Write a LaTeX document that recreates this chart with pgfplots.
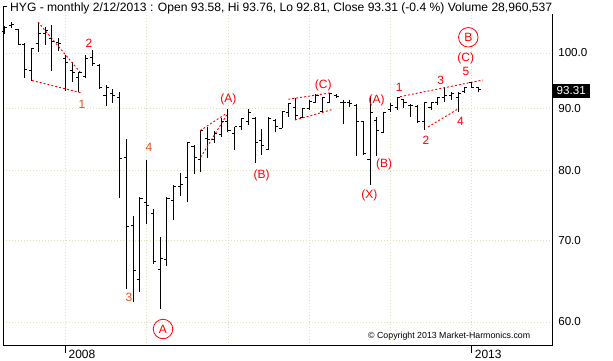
\documentclass[border=0pt]{standalone}
\usepackage{fontspec}
\setmainfont{Liberation Sans}
\usepackage{pgfplots}
\usepackage{pgfplotstable}
\pgfplotsset{compat=1.18}
\pgfdeclareplotmark{ohlcopen}{\pgfpathmoveto{\pgfqpoint{-2.6pt}{0pt}}\pgfpathlineto{\pgfqpoint{0pt}{0pt}}\pgfusepathqstroke}
\pgfdeclareplotmark{ohlcclose}{\pgfpathmoveto{\pgfqpoint{0pt}{0pt}}\pgfpathlineto{\pgfqpoint{2.6pt}{0pt}}\pgfusepathqstroke}
\definecolor{gridc}{RGB}{225,225,185}
\definecolor{wave}{RGB}{255,0,0}
\definecolor{wavo}{RGB}{230,80,20}

% monthly OHLC, index 0 = Apr 2007 ... 70 = Feb 2013
\pgfplotstableread{
i O H L C
0 104.07 105.26 103.67 104.86
1 105.26 106.06 104.86 105.46
2 104.66 104.66 101.53 101.53
3 101.53 101.92 95.36 96.82
4 96.64 100.95 94.82 100.76
5 101.72 105.86 100.19 103.67
6 103.67 105.06 101.53 104.46
7 102.69 105.46 96.64 102.11
8 101.92 102.89 100.38 101.72
9 99.05 99.62 93.04 98.30
10 96.64 98.30 94.64 96.45
11 95.54 96.45 92.86 96.45
12 95.72 99.62 95.36 99.05
13 99.24 100.57 97.56 97.93
14 97.56 97.93 93.39 93.57
15 92.33 94.10 90.42 93.74
16 92.68 93.39 90.94 92.16
17 91.98 92.86 75.92 81.92
18 82.07 84.93 63.87 71.98
19 72.12 73.36 62.31 66.22
20 65.10 76.06 63.51 75.92
21 75.34 81.61 72.26 74.91
22 73.78 74.35 66.98 67.24
23 66.35 70.50 61.48 67.75
24 67.62 76.06 66.73 75.92
25 75.63 77.82 72.81 77.67
26 77.67 79.61 76.21 77.96
27 79.01 84.29 75.34 84.29
28 83.65 83.97 79.46 82.07
29 81.76 86.39 79.77 86.23
30 85.09 86.89 81.92 84.77
31 84.77 86.23 84.29 85.90
32 85.58 88.38 85.25 87.72
33 87.72 89.91 86.06 86.23
34 85.74 86.89 83.17 86.89
35 86.89 88.38 86.39 88.38
36 87.72 89.91 87.22 89.23
37 88.38 88.55 81.14 84.44
38 84.61 86.56 82.39 83.81
39 83.33 88.55 83.17 88.38
40 88.05 88.22 86.06 86.89
41 86.72 89.40 86.72 89.40
42 89.23 90.94 88.55 90.77
43 90.25 91.81 88.05 88.89
44 88.55 90.08 88.38 89.91
45 89.91 91.46 89.74 91.28
46 90.94 92.51 90.94 92.33
47 89.40 91.98 89.23 91.98
48 91.11 92.68 90.94 92.68
49 92.25 92.51 91.81 92.07
50 91.11 91.46 87.38 90.94
51 91.11 91.46 90.25 90.77
52 90.59 90.77 82.23 87.88
53 87.72 87.88 82.39 82.70
54 81.76 92.16 77.82 89.23
55 88.05 88.55 82.23 86.39
56 86.06 89.40 85.90 89.23
57 89.74 90.94 89.40 90.59
58 90.08 91.98 89.74 91.81
59 91.46 91.63 90.08 90.94
60 90.59 90.77 88.55 90.50
61 90.42 90.59 87.55 87.88
62 87.88 91.11 86.39 90.94
63 90.25 91.11 89.74 90.94
64 91.11 91.98 90.59 91.81
65 91.81 93.74 91.11 92.16
66 92.16 92.86 91.46 92.51
67 91.98 92.86 89.40 92.68
68 92.86 93.74 92.68 93.57
69 94.46 94.64 93.57 93.74
70 93.58 93.76 92.81 93.31
}\ohlc

\tikzset{lab/.style={text=wave, font=\fontsize{12}{12}\selectfont, inner sep=0pt},
         labo/.style={text=wavo, font=\fontsize{12}{12}\selectfont, inner sep=0pt},
         circ/.style={draw=wave, text=wave, circle, minimum size=19.5pt, inner sep=0pt, line width=0.8pt, font=\fontsize{12}{12}\selectfont}}

\begin{document}
\begin{tikzpicture}[x=1pt,y=1pt]
\path[use as bounding box] (0,0) rectangle (613,360);
\begin{axis}[
  at={(3pt,14pt)}, anchor=south west,
  width=549pt, height=339pt, scale only axis,
  xmin=-0.2216, xmax=80.87,
  ymode=log, ymin=57.33, ymax=109.13,
  axis x line=bottom, axis y line=right,
  axis line style={-, line width=1pt, black},
  every outer x axis line/.append style={-},
  every outer y axis line/.append style={-},
  y axis line style={draw=none},
  xtick={9,21,33,45,57,69},
  xticklabels={2008,,,,,2013},
  ytick={60,70,80,90,100},
  yticklabels={60.0,70.0,80.0,90.0,100.0},
  tick style={draw=none},
  minor tick style={draw=none},
  xmajorgrids, ymajorgrids,
  major grid style={gridc, line width=0.8pt, dash pattern=on 0.8pt off 2.2pt},
  xticklabel style={anchor=north west, inner sep=0pt, xshift=3pt, yshift=-2pt, font=\fontsize{12}{12}\selectfont},
  yticklabel style={anchor=west, inner sep=0pt, xshift=4pt, font=\fontsize{11.6}{12}\selectfont},
]
% high-low ranges
\addplot[draw=none, no markers, forget plot,
  error bars/.cd, y dir=plus, y explicit, error mark=none,
  error bar style={draw=black, solid, line width=1pt}]
  table[x=i, y=L, y error plus expr=\thisrow{H}-\thisrow{L}] {\ohlc};
% open ticks
\addplot[only marks, mark=ohlcopen, mark options={line width=1pt, black}] table[x=i, y=O] {\ohlc};
% close ticks
\addplot[only marks, mark=ohlcclose, mark options={line width=1pt, black}] table[x=i, y=C] {\ohlc};

% wave trend lines
\addplot[wave, line width=0.9pt, dash pattern=on 2pt off 2pt] coordinates {(4.95,106.06) (11.15,96.45)};
\addplot[wave, line width=0.9pt, dash pattern=on 2pt off 2pt] coordinates {(4.06,94.91) (11.45,92.68)};
\addplot[wave, line width=0.9pt, dash pattern=on 2pt off 2pt] coordinates {(28.88,86.29) (32.82,89.18)};
\addplot[wave, line width=0.9pt, dash pattern=on 2pt off 2pt] coordinates {(28.98,82.04) (32.82,88.89)};
\addplot[wave, line width=0.9pt, dash pattern=on 2pt off 2pt] coordinates {(41.92,91.58) (48.33,92.74)};
\addplot[wave, line width=0.9pt, dash pattern=on 2pt off 2pt] coordinates {(42.91,88.05) (48.57,89.86)};
\addplot[wave, line width=0.9pt, dash pattern=on 2pt off 2pt] coordinates {(58.42,92.04) (70.68,95.00)};
\addplot[wave, line width=0.9pt, dash pattern=on 2pt off 2pt] coordinates {(62.56,86.89) (66.99,89.91)};
\end{axis}

% frame pieces
\draw[line width=1pt] (3,14) -- (3,353.3) -- (7,353.3);
\draw[line width=1pt] (552,14) -- (552,346);
\draw[line width=1pt] (65.4,14) -- (65.4,7);
\draw[line width=1pt] (471.2,14) -- (471.2,7);

% title
\node[anchor=base west, inner sep=0pt, font=\fontsize{12.1}{12}\selectfont] at (10,349)
  {HYG - monthly 2/12/2013 : Open 93.58, Hi 93.76, Lo 92.81, Close 93.31 (-0.4 \%) Volume 28,960,537};

% last price box
\node[fill=black, text=white, anchor=west, inner sep=0pt, minimum height=14pt, minimum width=37pt,
  font=\fontsize{11.6}{12}\selectfont] at (552.5,269.3) {93.31};

% copyright
\node[anchor=base west, inner sep=0pt, font=\fontsize{8.8}{9}\selectfont] at (368,22)
  {\textcopyright{} Copyright 2013 Market-Harmonics.com};

% wave labels
\node[lab]  at (89,316.5) {2};
\node[labo] at (82,255.5) {1};
\node[labo] at (129,62.7) {3};
\node[labo] at (149,212.3) {4};
\node[circ] at (163,31) {A};
\node[lab]  at (228.3,260.7) {(A)};
\node[lab]  at (261.7,185) {(B)};
\node[lab]  at (323.3,274.5) {(C)};
\node[lab]  at (376.5,259.5) {(A)};
\node[lab]  at (384,195.5) {(B)};
\node[lab]  at (369.3,164.5) {(X)};
\node[lab]  at (399.3,272.5) {1};
\node[lab]  at (440.7,279.3) {3};
\node[lab]  at (466,288.3) {5};
\node[lab]  at (465.7,301.7) {(C)};
\node[circ] at (468.3,322.7) {B};
\node[lab]  at (426,219.5) {2};
\node[lab]  at (460.5,238.8) {4};
\end{tikzpicture}
\end{document}
